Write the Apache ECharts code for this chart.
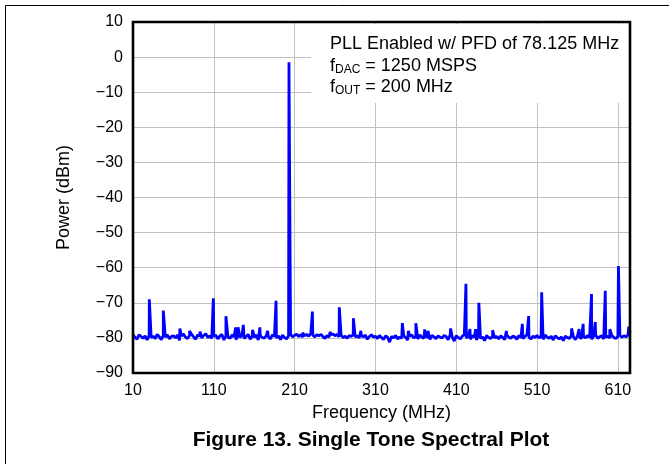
<!DOCTYPE html>
<html><head><meta charset="utf-8">
<script src="https://cdn.jsdelivr.net/npm/echarts@6/dist/echarts.min.js"></script>
<style>html,body{margin:0;padding:0;background:#fff}#c{width:669px;height:464px}</style>
</head><body><div id="c"></div>
<script>
// ---- data ----
const xTicks = [10, 110, 210, 310, 410, 510, 610];
const yTicks = [10, 0, -10, -20, -30, -40, -50, -60, -70, -80, -90];
const floorStartMHz = 10;
const floorStepMHz = 2.5;
// noise floor readings (dBm), one every 2.5 MHz from 10 MHz to 625 MHz
const noiseFloor = [
 -79.2,-79.8,-80.4,-79.1,-79.6,-80.1,-79.4,-80.6,-79.3,-79.9,-79.5,-80.2,-79.0,-79.7,-80.5,-79.3,-79.8,-79.1,-80.3,-79.6,
 -79.4,-80.0,-79.2,-80.7,-79.5,-78.9,-79.8,-80.2,-79.3,-79.0,-79.7,-80.4,-79.1,-79.6,-80.0,-79.3,-78.8,-79.9,-79.4,-80.1,
 -79.6,-79.2,-80.3,-79.5,-79.0,-80.6,-79.4,-79.8,-80.1,-79.2,-79.7,-80.5,-79.3,-79.9,-79.1,-80.2,-79.6,-79.0,-80.4,-79.5,
 -79.8,-79.2,-80.6,-79.4,-79.9,-80.1,-79.3,-79.7,-80.3,-79.1,-79.6,-80.0,-79.4,-80.5,-79.2,-79.9,-80.3,-79.4,-79.0,-79.7,
 -79.3,-78.9,-79.6,-79.1,-79.8,-79.4,-79.0,-79.5,-78.8,-79.2,-79.7,-79.1,-79.4,-79.0,-79.6,-80.2,-79.3,-79.8,-79.1,-78.9,
 -79.4,-79.0,-79.7,-79.2,-79.9,-79.5,-80.1,-79.3,-79.6,-79.1,-79.8,-79.4,-80.0,-79.3,-79.7,-79.2,-80.4,-79.6,-79.1,-79.8,
 -79.5,-80.2,-79.3,-79.9,-80.5,-79.4,-79.8,-81.2,-79.6,-80.0,-79.3,-80.3,-79.7,-80.1,-79.4,-79.9,-80.6,-79.5,-79.2,-80.0,
 -79.6,-80.3,-79.2,-79.8,-80.1,-79.5,-79.9,-80.4,-79.3,-79.7,-80.2,-79.4,-79.8,-80.0,-79.3,-79.6,-80.5,-79.1,-79.7,-80.9,
 -79.4,-79.9,-80.3,-79.5,-79.1,-80.0,-79.6,-80.4,-79.3,-79.8,-80.6,-79.4,-80.1,-79.7,-80.8,-79.3,-79.9,-80.2,-79.5,-80.0,
 -79.6,-80.3,-79.4,-79.9,-80.5,-79.2,-79.8,-80.1,-79.5,-79.7,-80.4,-79.3,-79.9,-80.2,-79.6,-79.1,-79.8,-80.3,-79.5,-79.9,
 -79.3,-80.0,-79.6,-80.4,-79.2,-79.8,-80.1,-79.5,-80.6,-79.4,-79.9,-80.3,-79.7,-80.8,-79.5,-79.9,-80.2,-79.3,-79.7,-80.5,
 -79.4,-79.8,-80.2,-79.5,-80.0,-79.3,-79.9,-80.4,-79.6,-79.2,-80.1,-79.7,-79.4,-80.3,-79.8,-79.5,-80.0,-79.3,-79.9,-80.2,
 -79.6,-79.3,-79.8,-79.4,-79.7,-79.2,-78.6
];
// spurs and the fundamental tone: [frequency MHz, power dBm]
const spurFreqs  = [30.2, 47.5, 68, 80, 93, 109.4, 125, 137, 140, 146.5, 158, 167, 176.6, 187, 203,
                    220, 232, 254, 265.3, 282.7, 292, 343.3, 350.7, 360, 371, 375, 403, 422, 427, 434, 438,
                    455, 472, 491.8, 499.6, 515.7, 552.7, 562, 567, 577.4, 582, 594.4, 600, 610.7, 623.5];
const spurLevels = [-69.0, -72.2, -77.3, -78.0, -78.2, -68.7, -73.8, -77.0, -77.0, -76.3, -77.7, -77.0, -78.0, -69.4, -1.5,
                    -78.5, -72.5, -78.3, -71.3, -74.4, -78.0, -75.8, -78.0, -75.8, -77.6, -78.0, -77.3, -64.6, -77.5, -77.5, -70.0,
                    -77.8, -78.0, -76.0, -73.8, -67.0, -77.3, -77.5, -76.0, -67.5, -75.5, -66.6, -77.5, -59.5, -76.8];
const annotationLines = ['PLL Enabled w/ PFD of 78.125 MHz', ['f', 'DAC', ' = 1250 MSPS'], ['f', 'OUT', ' = 200 MHz']];
const xName = 'Frequency (MHz)';
const yName = 'Power (dBm)';
const caption = 'Figure 13. Single Tone Spectral Plot';

// ---- build series ----
const pts = noiseFloor.map((v, i) => [floorStartMHz + i * floorStepMHz, v]);
spurFreqs.forEach((f, i) => pts.push([f, spurLevels[i]]));
pts.sort((a, b) => a[0] - b[0]);

const FONT = '"Liberation Sans", Arial, Helvetica, sans-serif';
const chart = echarts.init(document.getElementById('c'), null, {renderer: 'canvas'});
const minus = v => String(v).replace('-', '\u2212');
const rich = {
  m: {fontSize: 18, fontFamily: FONT, color: '#000', lineHeight: 20},
  s: {fontSize: 12, fontFamily: FONT, color: '#000', lineHeight: 10, verticalAlign: 'bottom'}
};
const richLine = a => '{m|' + a[0] + '}{s|' + a[1] + '}{m|' + a[2] + '}';

chart.setOption({
  animation: false,
  backgroundColor: '#fff',
  grid: {left: 133, right: 39, top: 22, bottom: 91, show: false},
  xAxis: {
    type: 'value', min: xTicks[0], max: 625, interval: 100,
    name: xName, nameLocation: 'middle', nameGap: 30,
    nameTextStyle: {fontSize: 18, fontFamily: FONT, color: '#000'},
    axisLine: {show: false}, axisTick: {show: false},
    axisLabel: {fontSize: 16, fontFamily: FONT, color: '#000', margin: 10,
                customValues: xTicks},
    splitLine: {show: true, lineStyle: {color: '#c0c0c0', width: 1}}
  },
  yAxis: {
    type: 'value', min: yTicks[yTicks.length - 1], max: yTicks[0], interval: 10,
    name: yName, nameLocation: 'middle', nameGap: 60,
    nameTextStyle: {fontSize: 18, fontFamily: FONT, color: '#000'},
    axisLine: {show: false}, axisTick: {show: false},
    axisLabel: {fontSize: 16, fontFamily: FONT, color: '#000', margin: 10, formatter: minus},
    splitLine: {show: true, lineStyle: {color: '#c0c0c0', width: 1}}
  },
  series: [{
    type: 'line', data: pts, showSymbol: false, symbol: 'none',
    lineStyle: {color: '#0000ff', width: 2.8}, z: 3
  }],
  graphic: [
    {type: 'rect', z: 0, silent: true, shape: {x: 5.5, y: 5.5, width: 700, height: 500},
     style: {fill: null, stroke: '#000', lineWidth: 1}},
    {type: 'rect', z: 50, silent: true, shape: {x: 311, y: 24, width: 318, height: 79},
     style: {fill: '#fff', stroke: null}},
    {type: 'text', z: 60, x: 330, y: 44, style: {text: annotationLines[0], font: '18px ' + FONT, fill: '#000', verticalAlign: 'middle'}},
    {type: 'text', z: 60, x: 330, y: 66, style: {text: richLine(annotationLines[1]), rich: rich, verticalAlign: 'middle'}},
    {type: 'text', z: 60, x: 330, y: 87, style: {text: richLine(annotationLines[2]), rich: rich, verticalAlign: 'middle'}},
    {type: 'rect', z: 100, silent: true, shape: {x: 133, y: 22, width: 497, height: 351},
     style: {fill: null, stroke: '#000', lineWidth: 2.6}},
    {type: 'text', z: 60, x: 371, y: 440, style: {text: caption, font: 'bold 21px ' + FONT, fill: '#000', align: 'center', verticalAlign: 'middle'}}
  ]
});
</script></body></html>
